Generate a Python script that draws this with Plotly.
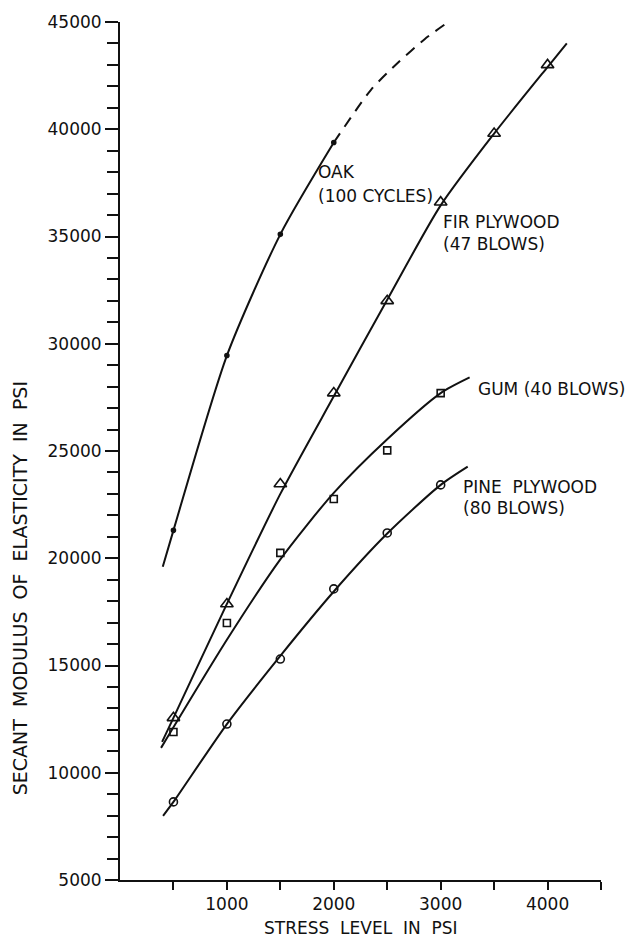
import plotly.graph_objects as go

# Measured secant modulus of elasticity (psi) at each stress level (psi)
oak_x = [500, 1000, 1500, 2000]
oak_y = [21300, 29450, 35100, 39380]

fir_x = [500, 1000, 1500, 2000, 2500, 3000, 3500, 4000]
fir_y = [12560, 17870, 23460, 27700, 32000, 36600, 39800, 43000]

gum_x = [500, 1000, 1500, 2000, 2500, 3000]
gum_y = [11900, 16980, 20250, 22760, 25030, 27700]

pine_x = [500, 1000, 1500, 2000, 2500, 3000]
pine_y = [8640, 12270, 15300, 18570, 21180, 23420]

# Faired curves drawn through the test points
oak_fit_x = [400, 500, 1000, 1500, 2000]
oak_fit_y = [19600, 21300, 29450, 35100, 39380]
oak_ext_x = [2000, 2350, 2600, 2850, 3100]
oak_ext_y = [39380, 41850, 43100, 44200, 45100]

fir_fit_x = [394, 500, 1000, 1500, 2000, 2500, 3000, 3500, 4000, 4180]
fir_fit_y = [11440, 12560, 17870, 23000, 27550, 32050, 36450, 39800, 42900, 44000]

gum_fit_x = [384, 1000, 1500, 2000, 2500, 3000, 3271]
gum_fit_y = [11160, 16200, 19950, 23050, 25550, 27700, 28430]

pine_fit_x = [403, 500, 1000, 1500, 2000, 2500, 3000, 3253]
pine_fit_y = [7990, 8640, 12270, 15450, 18450, 21150, 23420, 24270]

y_ticks = [5000, 10000, 15000, 20000, 25000, 30000, 35000, 40000, 45000]
x_ticks = [1000, 2000, 3000, 4000]
x_minor_ticks = [500, 1500, 2500, 3500, 4500]

INK = "#111111"
FONT = "DejaVu Sans"

fig = go.Figure()


def curve(xs, ys, dash="solid"):
    fig.add_trace(go.Scatter(
        x=xs, y=ys, mode="lines",
        line=dict(color=INK, width=2, shape="spline", smoothing=0.7, dash=dash),
        hoverinfo="skip", showlegend=False,
    ))


def points(xs, ys, symbol, size, name):
    fig.add_trace(go.Scatter(
        x=xs, y=ys, mode="markers", name=name,
        marker=dict(symbol=symbol, size=size, color=INK,
                    line=dict(color=INK, width=1.6)),
        showlegend=False,
    ))


curve(oak_fit_x, oak_fit_y)
curve(oak_ext_x, oak_ext_y, dash="11px,8px")
curve(fir_fit_x, fir_fit_y)
curve(gum_fit_x, gum_fit_y)
curve(pine_fit_x, pine_fit_y)

points(oak_x, oak_y, "circle", 4, "Oak")
points(fir_x, fir_y, "triangle-up-open", 11, "Fir plywood")
points(gum_x, gum_y, "square-open", 7, "Gum")
points(pine_x, pine_y, "circle-open", 8, "Pine plywood")

labels = [
    ("OAK", 1837, 37990),
    ("(100 CYCLES)", 1837, 36870),
    ("FIR PLYWOOD", 3006, 35660),
    ("(47 BLOWS)", 3006, 34630),
    ("GUM (40 BLOWS)", 3334, 27910),
    ("PINE  PLYWOOD", 3194, 23340),
    ("(80 BLOWS)", 3194, 22360),
]
for text, lx, ly in labels:
    fig.add_annotation(x=lx, y=ly, xref="x", yref="y", text=text, showarrow=False,
                       xanchor="left", yanchor="middle",
                       font=dict(family=FONT, size=17, color=INK))

fig.add_annotation(x=-0.208, y=0.34, xref="paper", yref="paper",
                   text="SECANT  MODULUS  OF  ELASTICITY  IN  PSI", textangle=-90,
                   showarrow=False, xanchor="center", yanchor="middle",
                   font=dict(family=FONT, size=19, color=INK))
fig.add_annotation(x=0.5, y=-0.0555, xref="paper", yref="paper",
                   text="STRESS  LEVEL  IN  PSI", showarrow=False,
                   xanchor="center", yanchor="middle",
                   font=dict(family=FONT, size=17, color=INK))

fig.update_layout(
    width=636, height=938,
    margin=dict(l=120, r=35, t=22, b=58),
    paper_bgcolor="white", plot_bgcolor="white",
    font=dict(family=FONT, size=17, color=INK),
    showlegend=False,
)
fig.update_xaxes(
    range=[0, 4500], tickvals=x_ticks, ticks="outside", ticklen=8, tickwidth=2,
    tickcolor=INK, showline=True, linecolor=INK, linewidth=2, showgrid=False,
    zeroline=False, tickfont=dict(size=17), tickformat="d",
    minor=dict(tickvals=x_minor_ticks, ticks="outside", ticklen=8, tickwidth=2, tickcolor=INK),
)
fig.update_yaxes(
    range=[5000, 45000], tickvals=y_ticks, ticks="outside", ticklen=13, tickwidth=2,
    tickcolor=INK, showline=True, linecolor=INK, linewidth=2, showgrid=False,
    zeroline=False, tickfont=dict(size=17), tickformat="d",
    minor=dict(dtick=1000, ticks="outside", ticklen=11, tickwidth=2, tickcolor=INK),
)

fig.write_html("out.html")
